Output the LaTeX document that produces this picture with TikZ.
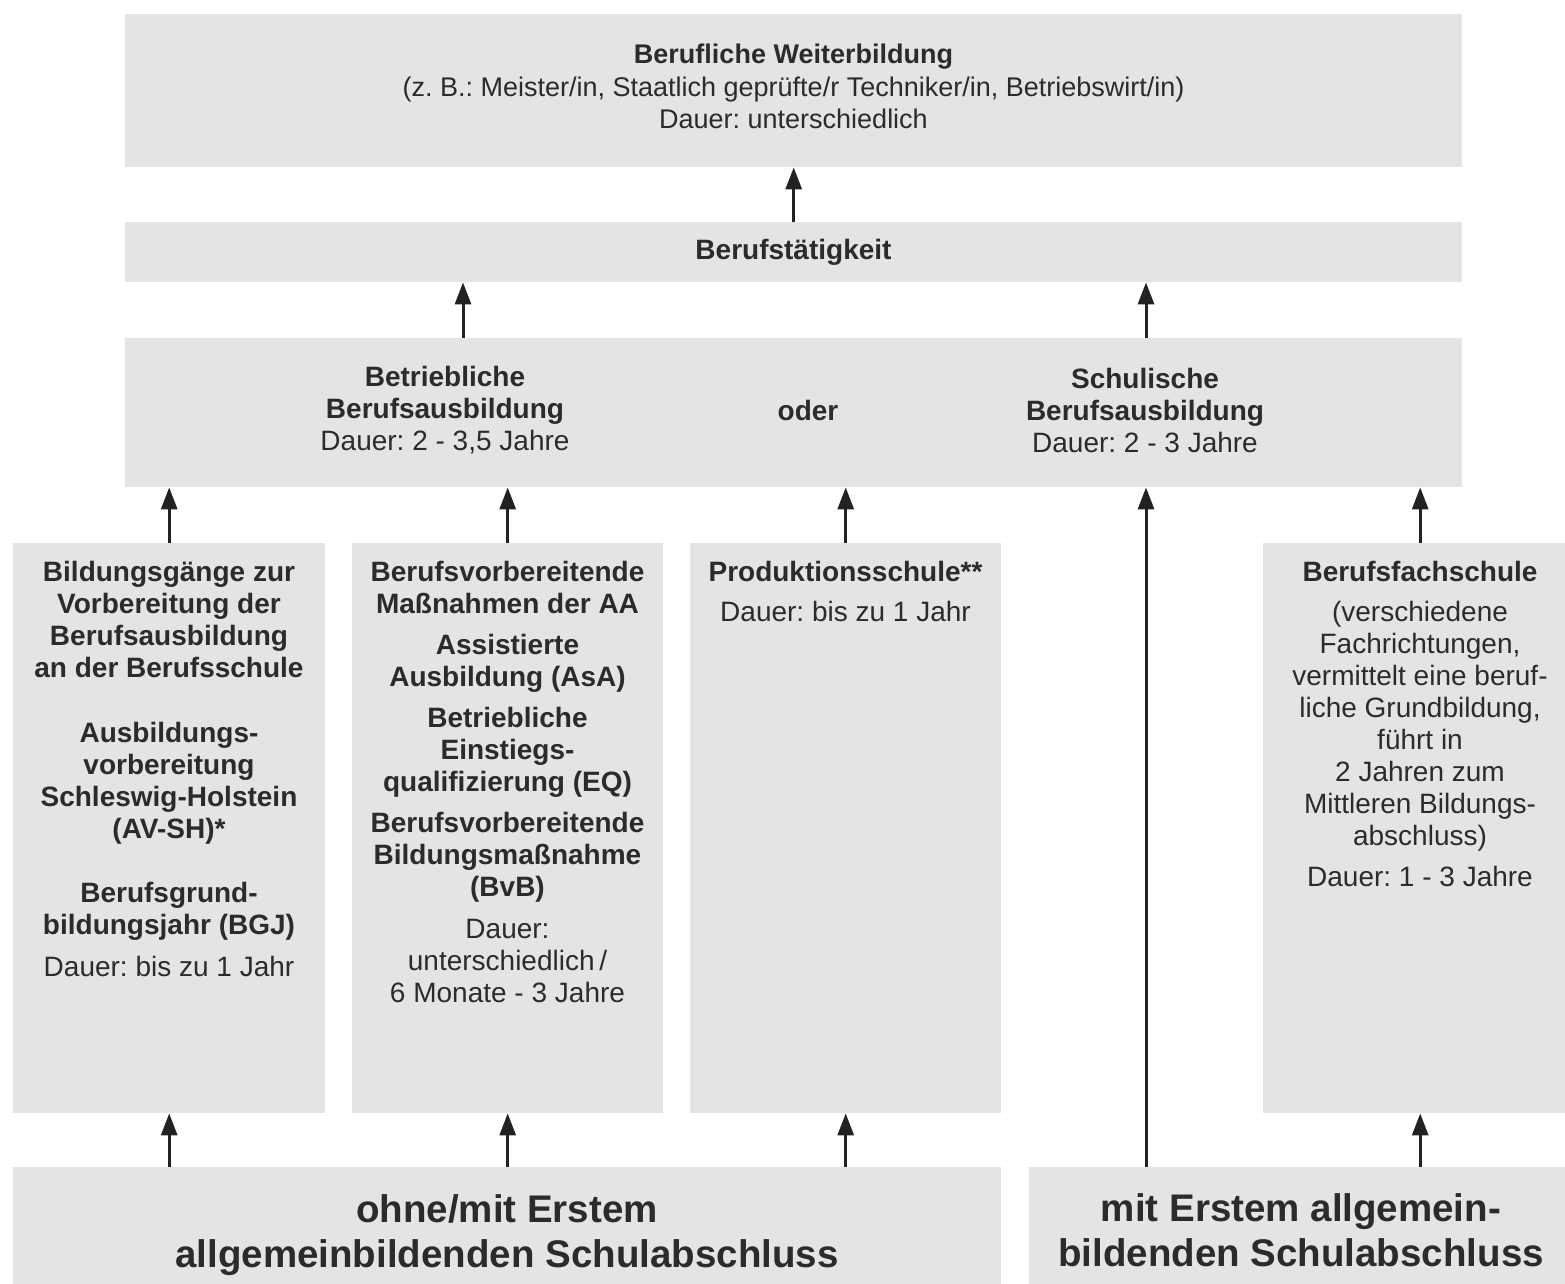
\documentclass[tikz,border=0pt]{standalone}
\usepackage{fontspec}
\setmainfont{Liberation Sans}
\usetikzlibrary{arrows.meta}
\definecolor{boxgray}{HTML}{E3E4E6}
\definecolor{txtc}{HTML}{2B2B2B}
\definecolor{arrc}{HTML}{222222}
\frenchspacing
\begin{document}
\begin{tikzpicture}[x=1pt,y=-1pt,
  gbox/.style={fill=boxgray, draw=none, inner sep=0pt, rectangle, anchor=north west},
  txt/.style={text=txtc, align=center, inner sep=0pt, font=\fontsize{28}{32}\selectfont},
  bigtxt/.style={text=txtc, align=center, inner sep=0pt, font=\fontsize{38.5}{45}\selectfont\bfseries},
  arr/.style={draw=arrc, line width=3pt, -{Triangle[width=16pt,length=22pt]}}]
\useasboundingbox (0,0) rectangle (1565,1283);
\clip (0,0) rectangle (1565,1283);
% boxes
\node[gbox, minimum width=1337pt, minimum height=153pt] (weiter) at (125,14) {};
\node[gbox, minimum width=1337pt, minimum height=60pt] (beruf) at (125,222) {};
\node[gbox, minimum width=1337pt, minimum height=149pt] (mid) at (125,338) {};
\node[gbox, minimum width=312pt, minimum height=570pt] (col1) at (13,543) {};
\node[gbox, minimum width=311pt, minimum height=570pt] (col2) at (352,543) {};
\node[gbox, minimum width=311pt, minimum height=570pt] (col3) at (690,543) {};
\node[gbox, minimum width=314pt, minimum height=570pt] (col5) at (1263,543) {};
\node[gbox, minimum width=988pt, minimum height=130pt] (bl) at (13,1167) {};
\node[gbox, minimum width=544pt, minimum height=130pt] (br) at (1029,1167) {};
% texts
\node[txt, anchor=north, font=\fontsize{27}{32.5}\selectfont] (weiterT) at (793.5,44) {\textbf{Berufliche Weiterbildung}\\(z. B.: Meister/in, Staatlich geprüfte/r Techniker/in, Betriebswirt/in)\\Dauer: unterschiedlich};
\node[txt, font=\fontsize{28}{32}\selectfont\bfseries] (berufT) at (793.5,252) {Berufstätigkeit};
\node[txt] (betrT) at (445,410) {\textbf{Betriebliche}\\\textbf{Berufsausbildung}\\Dauer: 2 - 3,5 Jahre};
\node[txt, font=\fontsize{28}{32}\selectfont\bfseries] (oderT) at (808,410) {oder};
\node[txt] (schulT) at (1145,410) {\textbf{Schulische}\\\textbf{Berufsausbildung}\\Dauer: 2 - 3 Jahre};
\node[txt, anchor=north] (col1T) at (169,561) {\textbf{Bildungsgänge zur}\\\textbf{Vorbereitung der}\\\textbf{Berufsausbildung}\\\textbf{an der Berufsschule}\\[33pt]
\textbf{Ausbildungs-}\\\textbf{vorbereitung}\\\textbf{Schleswig-Holstein}\\\textbf{(AV-SH)*}\\[32pt]
\textbf{Berufsgrund-}\\\textbf{bildungsjahr (BGJ)}\\[10pt]
Dauer: bis zu 1 Jahr};
\node[txt, anchor=north] (col2T) at (507.5,561) {\textbf{Berufsvorbereitende}\\\textbf{Maßnahmen der AA}\\[9pt]
\textbf{Assistierte}\\\textbf{Ausbildung (AsA)}\\[9pt]
\textbf{Betriebliche}\\\textbf{Einstiegs-}\\\textbf{qualifizierung (EQ)}\\[9pt]
\textbf{Berufsvorbereitende}\\\textbf{Bildungsmaßnahme}\\\textbf{(BvB)}\\[10pt]
Dauer:\\unterschiedlich\,/\\6 Monate - 3 Jahre};
\node[txt, anchor=north] (col3T) at (845.5,561) {\textbf{Produktionsschule**}\\[8pt]Dauer: bis zu 1 Jahr};
\node[txt, anchor=north] (col5T) at (1420,561) {\textbf{Berufsfachschule}\\[8pt]
(verschiedene\\Fachrichtungen,\\vermittelt eine beruf-\\liche Grundbildung,\\führt in\\2 Jahren zum\\Mittleren Bildungs-\\abschluss)\\[9pt]
Dauer: 1 - 3 Jahre};
\node[bigtxt] (blT) at (507,1235) {ohne/mit Erstem\\allgemeinbildenden Schulabschluss};
\node[bigtxt] (brT) at (1301,1230) {mit Erstem allgemein-\\bildenden Schulabschluss};
% arrows
\coordinate (a1) at (463,0);
\coordinate (a2) at (1146,0);
\draw[arr] (beruf.north) -- (weiter.south);
\draw[arr] (a1 |- mid.north) -- (a1 |- beruf.south);
\draw[arr] (a2 |- mid.north) -- (a2 |- beruf.south);
\draw[arr] (col1.north) -- (col1.north |- mid.south);
\draw[arr] (col2.north) -- (col2.north |- mid.south);
\draw[arr] (col3.north) -- (col3.north |- mid.south);
\draw[arr] (col5.north) -- (col5.north |- mid.south);
\draw[arr] (a2 |- br.north) -- (a2 |- mid.south);
\draw[arr] (col1.south |- bl.north) -- (col1.south);
\draw[arr] (col2.south |- bl.north) -- (col2.south);
\draw[arr] (col3.south |- bl.north) -- (col3.south);
\draw[arr] (col5.south |- br.north) -- (col5.south);
\end{tikzpicture}
\end{document}
